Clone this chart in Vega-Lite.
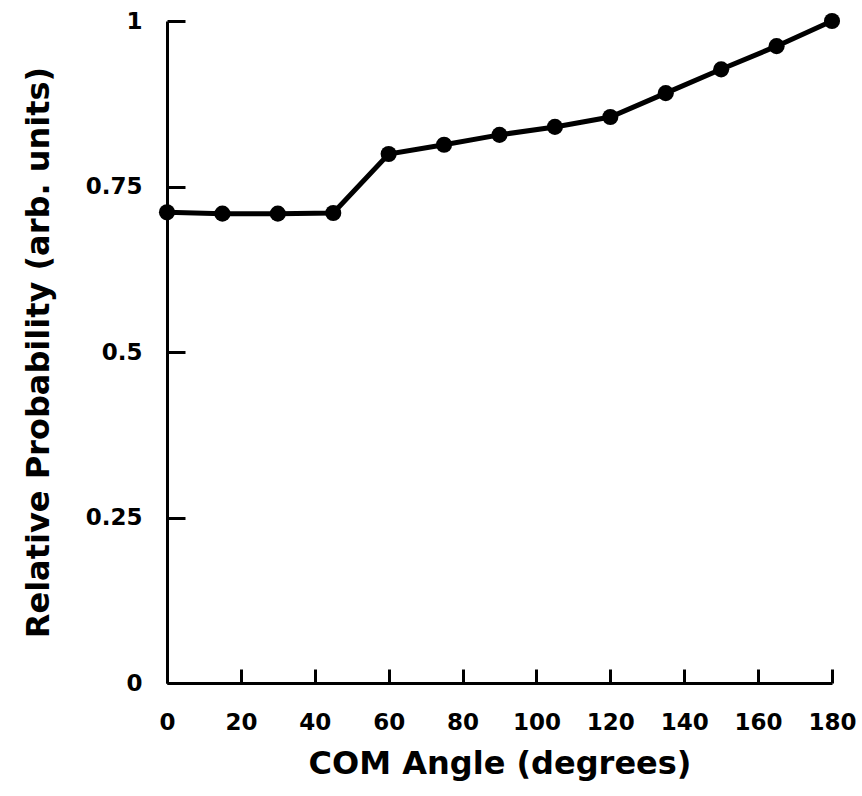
{
  "$schema": "https://vega.github.io/schema/vega-lite/v6.json",
  "width": 665,
  "height": 662,
  "autosize": {"type": "none"},
  "padding": {"left": 167, "top": 21, "right": 30, "bottom": 113},
  "background": "white",
  "config": {
    "view": {"stroke": null},
    "axis": {
      "grid": false,
      "domainColor": "black",
      "domainWidth": 3,
      "tickColor": "black",
      "tickWidth": 3,
      "labelFont": "DejaVu Sans",
      "labelFontWeight": "bold",
      "labelFontSize": 23,
      "labelColor": "black",
      "titleFont": "DejaVu Sans",
      "titleFontWeight": "bold",
      "titleFontSize": 32,
      "titleColor": "black"
    }
  },
  "data": {
    "values": [
      {"angle": 0, "prob": 0.711},
      {"angle": 15, "prob": 0.709},
      {"angle": 30, "prob": 0.709},
      {"angle": 45, "prob": 0.710},
      {"angle": 60, "prob": 0.799},
      {"angle": 75, "prob": 0.813},
      {"angle": 90, "prob": 0.828},
      {"angle": 105, "prob": 0.840},
      {"angle": 120, "prob": 0.855},
      {"angle": 135, "prob": 0.891},
      {"angle": 150, "prob": 0.927},
      {"angle": 165, "prob": 0.962},
      {"angle": 180, "prob": 1.0}
    ]
  },
  "encoding": {
    "x": {
      "field": "angle",
      "type": "quantitative",
      "scale": {"domain": [0, 180], "nice": false, "zero": false},
      "axis": {
        "title": "COM Angle (degrees)",
        "values": [0, 20, 40, 60, 80, 100, 120, 140, 160, 180],
        "tickSize": -14,
        "labelPadding": 42,
        "titlePadding": 14,
        "labelFlush": false
      }
    },
    "y": {
      "field": "prob",
      "type": "quantitative",
      "scale": {"domain": [0, 1], "nice": false},
      "axis": {
        "title": "Relative Probability (arb. units)",
        "values": [0, 0.25, 0.5, 0.75, 1],
        "tickSize": -18,
        "labelPadding": 43,
        "titlePadding": 30,
        "labelFlush": false,
        "labelExpr": "datum.value == 0 ? '0' : datum.value == 1 ? '1' : format(datum.value, '.2~f')"
      }
    }
  },
  "layer": [
    {"mark": {"type": "line", "color": "black", "strokeWidth": 5}},
    {"mark": {"type": "point", "filled": true, "color": "black", "opacity": 1, "size": 260}}
  ]
}
